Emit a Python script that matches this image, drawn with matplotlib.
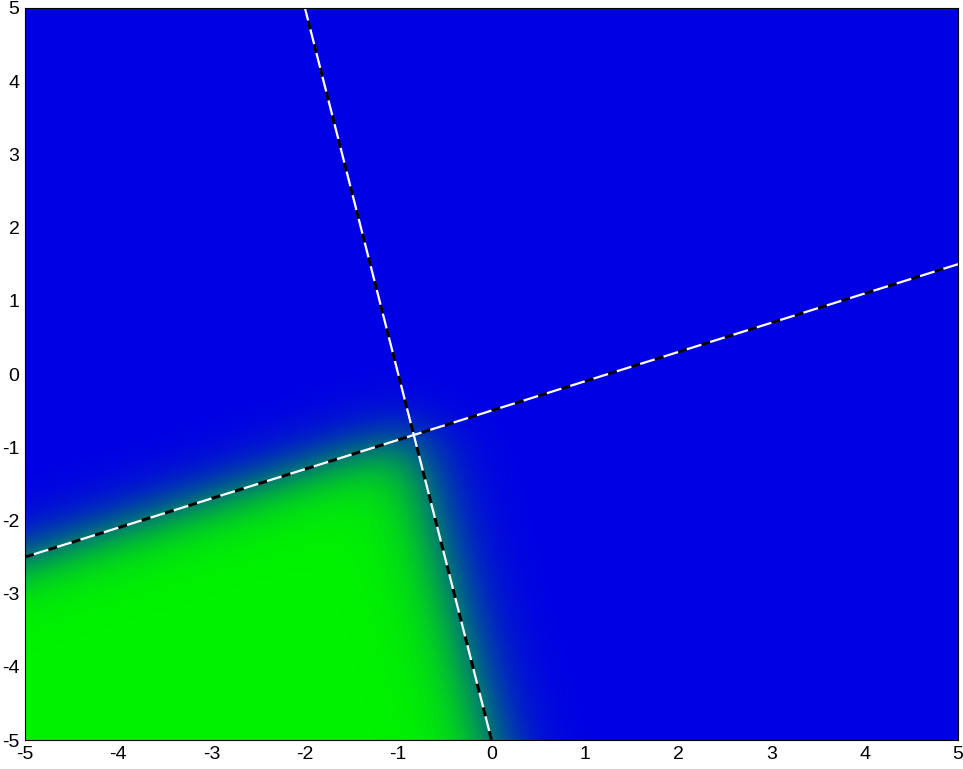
import numpy as np
import matplotlib
matplotlib.use("Agg")
import matplotlib.pyplot as plt
from matplotlib.colors import LinearSegmentedColormap

plt.rcParams['font.family'] = ['Liberation Sans', 'DejaVu Sans']
plt.rcParams['axes.unicode_minus'] = False

# frontera 1: y = m1*x + b1 ; frontera 2: y = m2*x + b2
m1, b1 = 0.4, -0.5
m2, b2 = -5.0, -5.0
k = 4.5  # pendiente de la sigmoide

xs = np.linspace(-5, 5, 600)
ys = np.linspace(-5, 5, 600)
X, Y = np.meshgrid(xs, ys)

def sig(z):
    return 1.0 / (1.0 + np.exp(-z))

d1 = -(Y - m1 * X - b1) / np.sqrt(1 + m1 ** 2)
d2 = -(Y - m2 * X - b2) / np.sqrt(1 + m2 ** 2)
Z = sig(k * d1) * sig(k * d2)

cmap = LinearSegmentedColormap.from_list("bg", [(0, 0, 0.9), (0, 0.95, 0)])

fig = plt.figure(figsize=(9.63, 7.69), dpi=100)
ax = fig.add_axes([0.026, 0.0377, 0.9688, 0.9519])
ax.imshow(Z, extent=(-5, 5, -5, 5), origin="lower", cmap=cmap,
          vmin=0, vmax=1, aspect="auto", interpolation="bilinear")

lx = np.array([-5.0, 5.0])
ax.plot(lx, m1 * lx + b1, color="white", lw=1.6)
ax.plot(lx, m1 * lx + b1, color="black", lw=2.2, dashes=(3, 5))
ly = np.array([-5.0, 5.0])
ax.plot((ly - b2) / m2, ly, color="white", lw=1.6)
ax.plot((ly - b2) / m2, ly, color="black", lw=2.2, dashes=(3, 5))

ax.set_xlim(-5, 5)
ax.set_ylim(-5, 5)
ax.set_xticks(range(-5, 6))
ax.set_yticks(range(-5, 6))
ax.tick_params(length=0, labelsize=14, pad=4)
for s in ax.spines.values():
    s.set_linewidth(0.8)

plt.savefig("out.png", dpi=100)
